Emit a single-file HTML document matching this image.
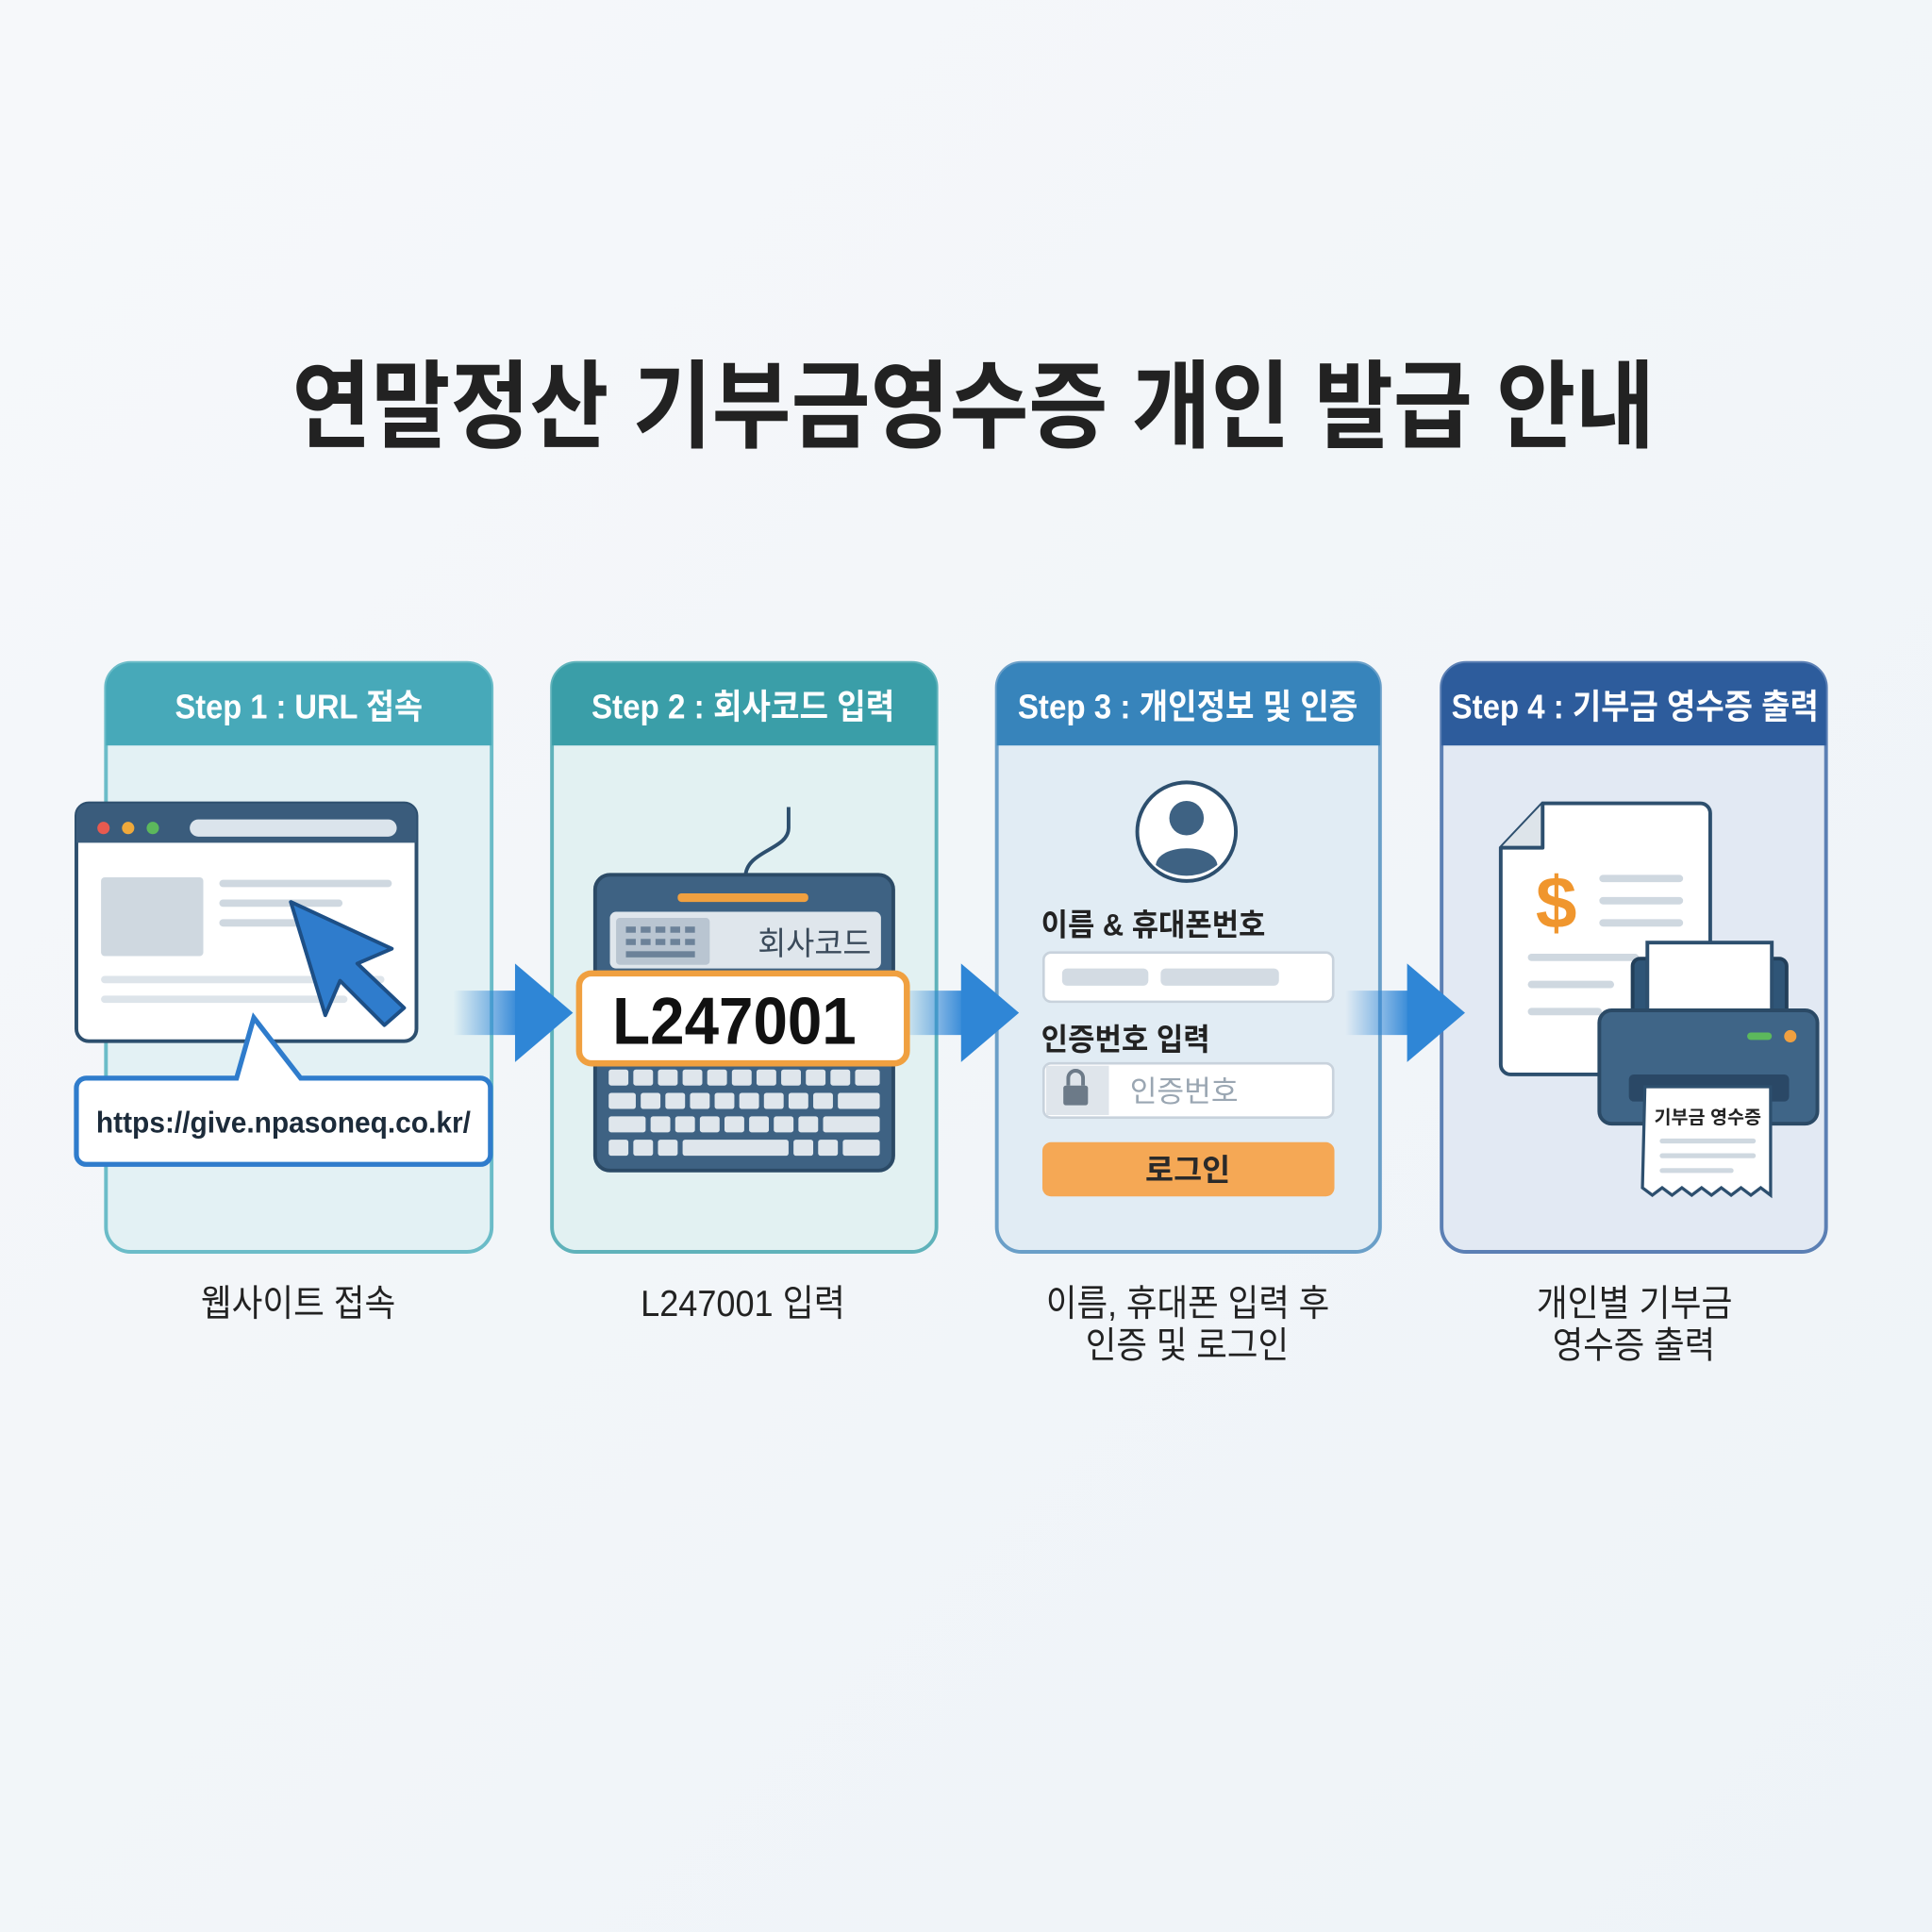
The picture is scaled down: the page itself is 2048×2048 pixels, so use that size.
<!DOCTYPE html>
<html><head><meta charset="utf-8">
<style>
html,body{margin:0;padding:0;background:#f3f6f9;}
svg{display:block;}
text{font-family:"Liberation Sans","Noto Sans CJK KR",sans-serif;}
</style></head>
<body>
<svg width="2048" height="2048" viewBox="0 0 1568 1568" xmlns="http://www.w3.org/2000/svg">
<defs>
<linearGradient id="bg" x1="0" y1="0" x2="1" y2="1">
<stop offset="0" stop-color="#f6f8fa"/><stop offset="1" stop-color="#eef3f8"/></linearGradient>
<linearGradient id="ar" x1="0" y1="0" x2="1" y2="0">
<stop offset="0" stop-color="#2f86d6" stop-opacity="0"/><stop offset="1" stop-color="#2f86d6"/></linearGradient>
</defs>
<rect width="1568" height="1568" fill="url(#bg)"/>
<text x="237" y="357" font-size="78" font-weight="bold" fill="#222" textLength="1106" lengthAdjust="spacingAndGlyphs">연말정산 기부금영수증 개인 발급 안내</text>

<g>
<rect x="86" y="538" width="313" height="478" rx="20" fill="#e3f1f4" stroke="#6bbcc8" stroke-width="3"/>
<path d="M86,605 V558 a20,20 0 0 1 20,-20 H379 a20,20 0 0 1 20,20 V605 Z" fill="#47a9b9"/>
<text x="142" y="583" font-size="28" font-weight="bold" fill="#fff" textLength="201" lengthAdjust="spacingAndGlyphs">Step 1 : URL 접속</text>

<rect x="448" y="538" width="312" height="478" rx="20" fill="#e2f1f2" stroke="#5fb2ba" stroke-width="3"/>
<path d="M448,605 V558 a20,20 0 0 1 20,-20 H740 a20,20 0 0 1 20,20 V605 Z" fill="#3a9ea8"/>
<text x="480" y="583" font-size="28" font-weight="bold" fill="#fff" textLength="246" lengthAdjust="spacingAndGlyphs">Step 2 : 회사코드 입력</text>

<rect x="809" y="538" width="311" height="478" rx="20" fill="#e1ecf4" stroke="#6a9fc8" stroke-width="3"/>
<path d="M809,605 V558 a20,20 0 0 1 20,-20 H1100 a20,20 0 0 1 20,20 V605 Z" fill="#3784bb"/>
<text x="826" y="583" font-size="28" font-weight="bold" fill="#fff" textLength="276" lengthAdjust="spacingAndGlyphs">Step 3 : 개인정보 및 인증</text>

<rect x="1170" y="538" width="312" height="478" rx="20" fill="#e2e9f3" stroke="#5b7fb4" stroke-width="3"/>
<path d="M1170,605 V558 a20,20 0 0 1 20,-20 H1462 a20,20 0 0 1 20,20 V605 Z" fill="#2d5c9c"/>
<text x="1178" y="583" font-size="28" font-weight="bold" fill="#fff" textLength="298" lengthAdjust="spacingAndGlyphs">Step 4 : 기부금 영수증 출력</text>
</g>

<g>
<rect x="368" y="804" width="54" height="36" fill="url(#ar)"/>
<path d="M418,782 L465,822 L418,862 Z" fill="#2f86d6"/>
<rect x="730" y="804" width="54" height="36" fill="url(#ar)"/>
<path d="M780,782 L827,822 L780,862 Z" fill="#2f86d6"/>
<rect x="1092" y="804" width="54" height="36" fill="url(#ar)"/>
<path d="M1142,782 L1189,822 L1142,862 Z" fill="#2f86d6"/>
</g>

<g>
<rect x="62" y="652" width="276" height="193" rx="10" fill="#fff" stroke="#2d4f6e" stroke-width="3"/>
<path d="M62,684 V662 a10,10 0 0 1 10,-10 H328 a10,10 0 0 1 10,10 V684 Z" fill="#3a5c7c"/>
<circle cx="84" cy="672" r="5" fill="#e85a4f"/><circle cx="104" cy="672" r="5" fill="#f0a93b"/><circle cx="124" cy="672" r="5" fill="#5cb85c"/>
<rect x="154" y="665" width="168" height="14" rx="7" fill="#dbe4ec"/>
<rect x="82" y="712" width="83" height="64" rx="3" fill="#cfd8e0"/>
<rect x="178" y="714" width="140" height="6" rx="3" fill="#cfd8e0"/>
<rect x="178" y="730" width="100" height="6" rx="3" fill="#cfd8e0"/>
<rect x="178" y="746" width="70" height="6" rx="3" fill="#cfd8e0"/>
<rect x="82" y="792" width="230" height="6" rx="3" fill="#dde4ea"/>
<rect x="82" y="808" width="200" height="6" rx="3" fill="#dde4ea"/>
<path d="M236,732 L318,770 L290,782 L328,818 L312,832 L276,796 L264,824 Z" fill="#2f7ccc" stroke="#1d4f86" stroke-width="3" stroke-linejoin="round"/>
<path d="M70,875 H192 L206,826 L244,875 H390 a8,8 0 0 1 8,8 V937 a8,8 0 0 1 -8,8 H70 a8,8 0 0 1 -8,-8 V883 a8,8 0 0 1 8,-8 Z" fill="#fff" stroke="#2f7ccc" stroke-width="4"/>
<text x="78" y="919" font-size="24" font-weight="bold" fill="#1c2b3a" textLength="304" lengthAdjust="spacingAndGlyphs">https://give.npasoneq.co.kr/</text>
</g>

<g>
<path d="M605,712 C605,690 640,690 640,672 L640,655" fill="none" stroke="#2d4f6e" stroke-width="3"/>
<rect x="483" y="710" width="242" height="240" rx="12" fill="#3e6283" stroke="#2b4a66" stroke-width="3"/>
<rect x="550" y="725" width="106" height="7" rx="3" fill="#f0a040"/>
<rect x="495" y="740" width="220" height="46" rx="5" fill="#dfe6ec"/>
<rect x="500" y="745" width="76" height="38" rx="3" fill="#b9c5d1"/>
<g fill="#6c8299"><rect x="508" y="752" width="8" height="5"/><rect x="520" y="752" width="8" height="5"/><rect x="532" y="752" width="8" height="5"/><rect x="544" y="752" width="8" height="5"/><rect x="556" y="752" width="8" height="5"/><rect x="508" y="762" width="8" height="5"/><rect x="520" y="762" width="8" height="5"/><rect x="532" y="762" width="8" height="5"/><rect x="544" y="762" width="8" height="5"/><rect x="556" y="762" width="8" height="5"/><rect x="508" y="772" width="56" height="5"/></g>
<text x="615" y="775" font-size="26" fill="#3a4a5a" textLength="92" lengthAdjust="spacingAndGlyphs">회사코드</text>
<g fill="#dfe6ec">
<rect x="494" y="868" width="16" height="13" rx="2"/><rect x="514" y="868" width="16" height="13" rx="2"/><rect x="534" y="868" width="16" height="13" rx="2"/><rect x="554" y="868" width="16" height="13" rx="2"/><rect x="574" y="868" width="16" height="13" rx="2"/><rect x="594" y="868" width="16" height="13" rx="2"/><rect x="614" y="868" width="16" height="13" rx="2"/><rect x="634" y="868" width="16" height="13" rx="2"/><rect x="654" y="868" width="16" height="13" rx="2"/><rect x="674" y="868" width="16" height="13" rx="2"/><rect x="694" y="868" width="20" height="13" rx="2"/>
<rect x="494" y="887" width="22" height="13" rx="2"/><rect x="520" y="887" width="16" height="13" rx="2"/><rect x="540" y="887" width="16" height="13" rx="2"/><rect x="560" y="887" width="16" height="13" rx="2"/><rect x="580" y="887" width="16" height="13" rx="2"/><rect x="600" y="887" width="16" height="13" rx="2"/><rect x="620" y="887" width="16" height="13" rx="2"/><rect x="640" y="887" width="16" height="13" rx="2"/><rect x="660" y="887" width="16" height="13" rx="2"/><rect x="680" y="887" width="34" height="13" rx="2"/>
<rect x="494" y="906" width="30" height="13" rx="2"/><rect x="528" y="906" width="16" height="13" rx="2"/><rect x="548" y="906" width="16" height="13" rx="2"/><rect x="568" y="906" width="16" height="13" rx="2"/><rect x="588" y="906" width="16" height="13" rx="2"/><rect x="608" y="906" width="16" height="13" rx="2"/><rect x="628" y="906" width="16" height="13" rx="2"/><rect x="648" y="906" width="16" height="13" rx="2"/><rect x="668" y="906" width="46" height="13" rx="2"/>
<rect x="494" y="925" width="16" height="13" rx="2"/><rect x="514" y="925" width="16" height="13" rx="2"/><rect x="534" y="925" width="16" height="13" rx="2"/><rect x="554" y="925" width="86" height="13" rx="2"/><rect x="644" y="925" width="16" height="13" rx="2"/><rect x="664" y="925" width="16" height="13" rx="2"/><rect x="684" y="925" width="30" height="13" rx="2"/>
</g>
<rect x="470" y="790" width="266" height="73" rx="10" fill="#fff" stroke="#f0a040" stroke-width="5"/>
<text x="497" y="847" font-size="54" font-weight="bold" fill="#111" textLength="198" lengthAdjust="spacingAndGlyphs">L247001</text>
</g>

<g>
<circle cx="963" cy="675" r="40" fill="#fff" stroke="#2d4f6e" stroke-width="3"/>
<circle cx="963" cy="664" r="14" fill="#3e6283"/>
<path d="M938,702 C940,684 986,684 988,702 A40,40 0 0 1 938,702 Z" fill="#3e6283"/>
<text x="845" y="759" font-size="25" font-weight="bold" fill="#222" textLength="182" lengthAdjust="spacingAndGlyphs">이름 &amp; 휴대폰번호</text>
<rect x="847" y="773" width="235" height="40" rx="6" fill="#fff" stroke="#c8d2dc" stroke-width="2"/>
<rect x="862" y="786" width="70" height="14" rx="4" fill="#d3dbe3"/>
<rect x="942" y="786" width="96" height="14" rx="4" fill="#d3dbe3"/>
<text x="845" y="852" font-size="25" font-weight="bold" fill="#222" textLength="137" lengthAdjust="spacingAndGlyphs">인증번호 입력</text>
<rect x="847" y="863" width="235" height="44" rx="6" fill="#fff" stroke="#c8d2dc" stroke-width="2"/>
<path d="M849,865 H900 V905 H849 Z" fill="#dfe5eb"/>
<rect x="863" y="881" width="20" height="16" rx="2" fill="#6c7a88"/>
<path d="M867,881 V875 a6,6 0 0 1 12,0 V881" fill="none" stroke="#6c7a88" stroke-width="3"/>
<text x="917" y="894" font-size="24" fill="#9aa6b2" textLength="88" lengthAdjust="spacingAndGlyphs">인증번호</text>
<rect x="846" y="927" width="237" height="44" rx="7" fill="#f5a855"/>
<text x="964" y="958" font-size="25" font-weight="bold" fill="#2a2a2a" text-anchor="middle">로그인</text>
</g>

<g>
<path d="M1252,652 H1380 a8,8 0 0 1 8,8 V864 a8,8 0 0 1 -8,8 H1226 a8,8 0 0 1 -8,-8 V688 Z" fill="#fff" stroke="#2d4f6e" stroke-width="3"/>
<path d="M1252,652 V688 H1218" fill="#dde4ea" stroke="#2d4f6e" stroke-width="3" stroke-linejoin="round"/>
<text x="1263" y="753" font-size="60" font-weight="bold" fill="#f0962e" text-anchor="middle">$</text>
<rect x="1298" y="710" width="68" height="6" rx="3" fill="#cfd8e0"/>
<rect x="1298" y="728" width="68" height="6" rx="3" fill="#cfd8e0"/>
<rect x="1298" y="746" width="68" height="6" rx="3" fill="#cfd8e0"/>
<rect x="1240" y="774" width="90" height="6" rx="3" fill="#cfd8e0"/>
<rect x="1240" y="796" width="70" height="6" rx="3" fill="#cfd8e0"/>
<rect x="1240" y="818" width="60" height="6" rx="3" fill="#cfd8e0"/>
<rect x="1325" y="778" width="125" height="56" rx="6" fill="#2f5577" stroke="#223f5a" stroke-width="3"/>
<rect x="1337" y="765" width="101" height="55" fill="#fff" stroke="#2d4f6e" stroke-width="3"/>
<rect x="1298" y="820" width="177" height="92" rx="10" fill="#3f6587" stroke="#2b4a66" stroke-width="3"/>
<rect x="1418" y="838" width="20" height="6" rx="3" fill="#5cb85c"/>
<circle cx="1453" cy="841" r="5" fill="#f0a040"/>
<rect x="1322" y="872" width="130" height="22" rx="4" fill="#2a4866"/>
<path d="M1335,882 H1437 V970 l-8,-6 -8,6 -8,-6 -8,6 -8,-6 -8,6 -8,-6 -8,6 -8,-6 -8,6 -8,-6 -8,6 -8,-6 Z" fill="#fff" stroke="#2d4f6e" stroke-width="2.5"/>
<text x="1386" y="912" font-size="15" font-weight="bold" fill="#222" text-anchor="middle">기부금 영수증</text>
<rect x="1347" y="924" width="78" height="4" rx="2" fill="#cfd8e0"/>
<rect x="1347" y="936" width="78" height="4" rx="2" fill="#cfd8e0"/>
<rect x="1347" y="948" width="60" height="4" rx="2" fill="#cfd8e0"/>
</g>

<g font-size="30" fill="#222" lengthAdjust="spacingAndGlyphs">
<text x="163" y="1068" textLength="158" lengthAdjust="spacingAndGlyphs">웹사이트 접속</text>
<text x="520" y="1068" textLength="166" lengthAdjust="spacingAndGlyphs">L247001 입력</text>
<text x="849" y="1068" textLength="230" lengthAdjust="spacingAndGlyphs">이름, 휴대폰 입력 후</text>
<text x="881" y="1102" textLength="165" lengthAdjust="spacingAndGlyphs">인증 및 로그인</text>
<text x="1247" y="1068" textLength="159" lengthAdjust="spacingAndGlyphs">개인별 기부금</text>
<text x="1260" y="1102" textLength="132" lengthAdjust="spacingAndGlyphs">영수증 출력</text>
</g>
</svg>
</body></html>
